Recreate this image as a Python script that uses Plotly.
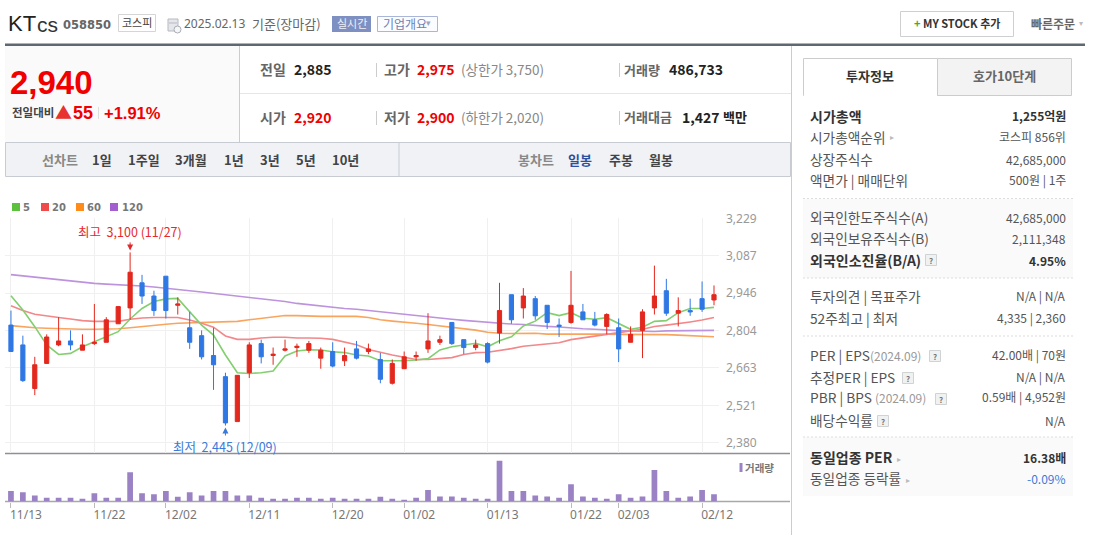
import plotly.graph_objects as go

W, H = 1095, 535

# ---------- chart data ----------
dates = ["11/13","11/14","11/15","11/18","11/19","11/20","11/21","11/22","11/25","11/26",
         "11/27","11/28","11/29","12/02","12/03","12/04","12/05","12/06","12/09","12/10",
         "12/11","12/12","12/13","12/16","12/17","12/18","12/19","12/20","12/23","12/24",
         "12/26","12/27","12/30","01/02","01/03","01/06","01/07","01/08","01/09","01/10",
         "01/13","01/14","01/15","01/16","01/17","01/20","01/21","01/22","01/23","01/24",
         "01/31","02/03","02/04","02/05","02/06","02/07","02/10","02/11","02/12","02/13"]
opens = [2825,2750,2585,2680,2750,2765,2730,2755,2760,2830,2890,2985,2935,3010,2900,2815,2785,2710,2630,2460,
         2645,2755,2710,2730,2740,2730,2700,2725,2690,2735,2725,2695,2605,2660,2705,2735,2760,2835,2770,2740,
         2755,2795,2940,2890,2925,2900,2825,2835,2875,2845,2820,2815,2760,2805,2890,2955,2870,2880,2925,2920]
closes = [2725,2615,2675,2780,2765,2750,2750,2760,2845,2895,3025,2935,2880,2880,2905,2760,2705,2675,2455,2635,
          2750,2705,2715,2735,2745,2755,2730,2670,2710,2700,2735,2620,2680,2705,2710,2765,2770,2755,2740,2750,
          2685,2880,2845,2935,2860,2835,2820,2900,2845,2825,2865,2735,2790,2875,2935,2870,2880,2875,2885,2940]
highs = [2880,2785,2705,2790,2855,2805,2790,2905,2855,2895,3100,3015,2955,3010,2930,2875,2805,2815,2645,2635,
         2760,2770,2740,2770,2755,2765,2740,2760,2740,2765,2755,2720,2695,2725,2725,2870,2785,2835,2770,2770,
         2760,2985,2940,2965,2935,2900,2850,3030,2905,2875,2870,2850,2820,2885,3050,3000,2930,2925,2990,2975]
lows = [2725,2610,2560,2680,2745,2730,2730,2750,2760,2830,2845,2905,2860,2850,2865,2735,2695,2580,2445,2460,
        2625,2680,2675,2725,2705,2720,2660,2665,2670,2695,2715,2605,2600,2660,2690,2720,2750,2750,2715,2730,
        2680,2755,2830,2850,2845,2810,2780,2830,2845,2820,2790,2685,2760,2700,2865,2860,2820,2860,2875,2900]
ma5 = [2936,2882,2819,2750,2714,2718,2743,2762,2781,2800,2848,2888,2914,2924,2926,2876,2825,2787,2712,2645,
       2642,2645,2651,2708,2727,2732,2731,2724,2721,2712,2708,2690,2690,2690,2693,2698,2731,2743,2750,2756,
       2743,2766,2781,2822,2840,2872,2861,2872,2851,2847,2853,2832,2809,2817,2839,2842,2872,2888,2888,2892]
ma20 = [2898,2880,2866,2859,2854,2848,2842,2839,2838,2839,2847,2852,2854,2854,2854,2844,2832,2817,2784,2771,
        2771,2776,2779,2779,2776,2776,2775,2771,2762,2751,2733,2722,2712,2703,2695,2695,2698,2702,2714,2721,
        2722,2728,2736,2745,2750,2753,2758,2770,2777,2784,2790,2796,2803,2809,2820,2825,2830,2837,2844,2854]
ma60 = [2823,2818,2815,2813,2811,2810,2809,2809,2809,2811,2815,2820,2824,2828,2832,2834,2835,2837,2838,2839,
        2845,2851,2856,2861,2861,2859,2858,2858,2858,2858,2854,2845,2840,2837,2832,2827,2822,2817,2811,2806,
        2798,2794,2793,2794,2794,2791,2791,2793,2793,2791,2791,2790,2790,2790,2790,2789,2787,2785,2781,2781]
ma120 = [3016,3011,3006,3002,2997,2992,2987,2983,2980,2978,2977,2973,2969,2965,2960,2955,2950,2945,2939,2934,
         2930,2925,2920,2914,2907,2902,2897,2892,2888,2885,2880,2876,2872,2867,2862,2857,2852,2847,2843,2839,
         2835,2832,2829,2827,2823,2820,2818,2814,2811,2809,2806,2804,2803,2801,2801,2803,2804,2805,2805,2805]
volumes = [704000,616000,396000,242000,242000,242000,176000,550000,242000,242000,
           1936000,550000,484000,704000,308000,616000,396000,704000,704000,396000,
           396000,242000,176000,176000,242000,242000,176000,242000,176000,176000,
           176000,308000,176000,110000,242000,770000,330000,330000,242000,176000,
           176000,2706000,704000,704000,396000,330000,242000,1144000,330000,242000,
           176000,484000,242000,330000,2090000,704000,242000,330000,770000,486733]
tick_dates = ["11/13","11/22","12/02","12/11","12/20","01/02","01/13","01/22","02/03","02/12"]
price_ticks = [3229,3087,2946,2804,2663,2521,2380]
ma_names = ["5","20","60","120"]

# ---------- page text ----------
info_left = [("시가총액",117,True),("시가총액순위",138,False),("상장주식수",160,False),("액면가 | 매매단위",181,False),
             ("외국인한도주식수(A)",218,False),("외국인보유주식수(B)",239,False),("외국인소진율(B/A)",261,True),
             ("투자의견 | 목표주가",297,False),("52주최고 | 최저",319,False),
             ("PER | EPS<span style='color:#999999;font-size:12px'>(2024.09)</span>",356,False),
             ("추정PER | EPS",378,False),
             ("PBR | BPS <span style='color:#999999;font-size:12px'>(2024.09)</span>",398,False),
             ("배당수익률",421,False),("동일업종 PER",458,True),("동일업종 등락률",479,False)]
info_right = [("1,255억원",117,True,"#333333"),("코스피 856위",138,False,"#555555"),("42,685,000",160,False,"#555555"),
              ("500원 | 1주",181,False,"#555555"),("42,685,000",218,False,"#555555"),("2,111,348",239,False,"#555555"),
              ("4.95%",261,True,"#333333"),("N/A | N/A",297,False,"#555555"),("4,335 | 2,360",319,False,"#555555"),
              ("42.00배 | 70원",356,False,"#555555"),("N/A | N/A",378,False,"#555555"),("0.59배 | 4,952원",398,False,"#555555"),
              ("N/A",421,False,"#555555"),("16.38배",458,True,"#333333"),("-0.09%",479,False,"#3a7ad9")]
help_icons = [(925,254),(929,350),(902,372),(935,393),(877,415)]
toolbar_left = [("1일",92),("1주일",128),("3개월",175),("1년",224),("3년",260),("5년",296),("10년",332)]

FONT = "Noto Sans CJK KR"
RED = "#f00000"
shapes, notes = [], []

def X(p): return p / W
def Y(p): return 1 - p / H

def rect(x0, y0, x1, y1, fill=None, line=None, lw=1, layer="below", kind="rect"):
    shapes.append(dict(type=kind, xref="paper", yref="paper", x0=X(x0), x1=X(x1), y0=Y(y0), y1=Y(y1),
                       fillcolor=fill or "rgba(0,0,0,0)", line=dict(color=line or "rgba(0,0,0,0)", width=lw if line else 0), layer=layer))

def hline(x0, x1, y, color, lw=1, dash="solid", layer="below"):
    shapes.append(dict(type="line", xref="paper", yref="paper", x0=X(x0), x1=X(x1), y0=Y(y), y1=Y(y),
                       line=dict(color=color, width=lw, dash=dash), layer=layer))

def vline(x, y0, y1, color, lw=1):
    shapes.append(dict(type="line", xref="paper", yref="paper", x0=X(x), x1=X(x), y0=Y(y0), y1=Y(y1),
                       line=dict(color=color, width=lw), layer="below"))

def text(x, y, s, size=13, color="#333333", bold=False, anchor="left", family=FONT):
    if family == FONT:
        y -= 1
    if bold:
        s = f"<b>{s}</b>"
    notes.append(dict(xref="paper", yref="paper", x=X(x), y=Y(y), text=s, showarrow=False, xanchor=anchor, yanchor="middle",
                      font=dict(family=family, size=size, color=color), borderpad=0, borderwidth=0))

# ---------- header ----------
text(8, 24, "KT", 22, "#222222", family="Liberation Sans")
text(36.5, 24.5, "cs", 21, "#333333", family="Liberation Sans")
text(63, 25, "058850", 11.5, "#666666", True, family="DejaVu Sans")
rect(118.5, 14.5, 155.5, 31.5, "#ffffff", "#d5d5d5")
text(137, 23.5, "코스피", 11, "#444444", anchor="center")
rect(168, 19, 178, 31, "#e4e6ea", "#b5b9c0")
hline(169, 177, 23, "#b5b9c0")
rect(174, 26, 181, 33, "#f5f6f7", "#a9adb4", kind="circle")
text(184, 24, "2025.02.13", 12, "#666666", family="Noto Sans")
text(252, 24.5, "기준(장마감)", 13, "#666666")
rect(332, 16, 371, 32, "#7e90c2")
text(351.5, 24.5, "실시간", 11, "#eef0f8", anchor="center")
rect(377.5, 16.5, 437.5, 31.5, "#fbfcff", "#aab6d8")
text(383, 24.5, "기업개요", 12, "#6e80b4")
text(426, 24, "▾", 9, "#9aa6c8")
rect(900.5, 11.5, 1013.5, 36.5, "#ffffff", "#cfcfcf")
text(957, 24.5, "<span style='color:#3fae2a'>+</span> MY STOCK 추가", 11, "#333333", True, anchor="center")
text(1031, 24.5, "빠른주문", 12, "#666666", True)
text(1079, 24, "▾", 8, "#bbbbbb")
hline(5, 1085, 44.8, "#5f6771", 2.4)

# ---------- quote ----------
rect(5, 46, 239, 142, "#fafafa")
vline(239.5, 46, 142, "#cccccc")
hline(240, 791, 93.5, "#e6e6e6")
text(10, 82, "2,940", 33, RED, True, family="Liberation Sans")
text(12, 113.5, "전일대비", 11.5, "#444444", True)
text(55, 112.5, "▲", 17, "#e8322f")
text(73, 113, "55", 18, RED, True, family="Liberation Sans")
vline(98.5, 107, 119, "#dddddd")
text(104, 113, "+1.91%", 16.5, RED, True, family="Liberation Sans")

text(260, 70, "전일", 14, "#666666", True)
text(294, 70, "2,885", 14, "#222222", True)
vline(376.5, 63, 77, "#cccccc")
text(384, 70, "고가", 14, "#666666", True)
text(417, 70, "2,975", 14, RED, True)
text(461, 70, "(상한가 3,750)", 13.5, "#888888")
vline(619.5, 63, 77, "#cccccc")
text(624, 70, "거래량", 13, "#666666", True)
text(669, 70, "486,733", 14, "#222222", True)

text(260, 118, "시가", 14, "#666666", True)
text(294, 118, "2,920", 14, RED, True)
vline(376.5, 111, 125, "#cccccc")
text(384, 118, "저가", 14, "#666666", True)
text(417, 118, "2,900", 14, RED, True)
text(461, 118, "(하한가 2,020)", 13.5, "#888888")
vline(619.5, 111, 125, "#cccccc")
text(624, 118, "거래대금", 13, "#666666", True)
text(682, 118, "1,427", 14, "#222222", True)
text(723, 118, "백만", 13, "#222222", True)

# ---------- toolbar ----------
rect(5.5, 142.5, 790.5, 176.5, "#f0f2f6", "#c8ccd2")
vline(399, 143, 176, "#c8ccd2")
text(42, 160, "선차트", 13, "#888888", True)
for s, x in toolbar_left:
    text(x, 160, s, 13, "#444444", True)
text(518, 160, "봉차트", 13, "#888888", True)
text(568, 160, "일봉", 13, "#2d4fa0", True)
text(609, 160, "주봉", 13, "#444444", True)
text(649, 160, "월봉", 13, "#444444", True)
vline(791.5, 46, 535, "#cccccc")

# ---------- side panel ----------
rect(937.5, 58.5, 1071.5, 95.5, "#f3f3f3", "#cccccc")
rect(803.5, 58.5, 937.5, 95.5, "#ffffff", "#cccccc")
hline(804, 937, 95.5, "#ffffff", 2)
text(870, 76.5, "투자정보", 13, "#333333", True, anchor="center")
text(1004, 76.5, "호가10단계", 13, "#666666", True, anchor="center")
rect(803, 199, 1073, 278, "#fafafa")
rect(803, 437, 1073, 496, "#fafafa")
for yy in (198.5, 278, 336, 437):
    hline(803, 1073, yy, "#dddddd", 1, "2px,2px")
for s, y, b in info_left:
    text(810, y, s, 14 if b else 13.7, "#333333" if b else "#555555", b)
for s, y, b, c in info_right:
    text(1066, y, s, 12, c, b, anchor="right")
for xi, yi in help_icons:
    rect(xi + .5, yi + .5, xi + 11.5, yi + 11.5, "#f0f2f2", "#cfd3d3")
    text(xi + 6, yi + 7, "?", 8, "#777777", True, anchor="center")
text(890, 138, "▸", 8, "#bbbbbb")
text(897, 459, "▸", 8, "#bbbbbb")
text(906, 480, "▸", 8, "#bbbbbb")

# ---------- chart furniture ----------
for i, (c, nm, x0, tx) in enumerate(zip(["#5cc13c", "#f04a4a", "#ff8c1a", "#a35fd0"], ma_names, [12, 41, 76, 110], [23, 52, 87, 122])):
    rect(x0, 203, x0 + 8, 211, c)
    text(tx, 207.5, nm, 10, "#777777", True, family="DejaVu Sans")
hline(5, 790, 453.5, "#8f8f96", 1.4)
hline(5, 790, 501.5, "#a8a8a8", 1.4)
rect(739.5, 463, 742.5, 472, "#9a82c4")
text(745, 468, "거래량", 10.5, "#777777", True)

notes.append(dict(x="11/27", y=3100, xref="x", yref="y", text="최고  3,100 (11/27)", showarrow=True, arrowhead=2, arrowwidth=1, arrowsize=1.2,
                  arrowcolor="#e0282d", ax=0, ay=-21, standoff=2, font=dict(family=FONT, size=12.5, color="#e8282d")))
notes.append(dict(x="12/09", y=2445, xref="x", yref="y", text="최저  2,445 (12/09)", showarrow=True, arrowhead=2, arrowwidth=1, arrowsize=1.2,
                  arrowcolor="#3a7ad9", ax=0, ay=21, standoff=2, font=dict(family=FONT, size=12.5, color="#3a7ad9")))

# ---------- traces ----------
fig = go.Figure()
for vals, color, name in zip([ma120, ma60, ma20, ma5], ["#bd93dd", "#f9a55e", "#f2888a", "#83cf70"], ma_names[::-1]):
    fig.add_trace(go.Scatter(x=dates, y=vals, mode="lines", name=name, line=dict(color=color, width=1.6),
                             xaxis="x", yaxis="y", showlegend=False, hoverinfo="skip"))
fig.add_trace(go.Candlestick(x=dates, open=opens, high=highs, low=lows, close=closes, name="일봉",
                             increasing=dict(line=dict(color="#e3281e", width=1), fillcolor="#e3281e"),
                             decreasing=dict(line=dict(color="#2f78e4", width=1), fillcolor="#2f78e4"),
                             whiskerwidth=0, xaxis="x", yaxis="y3", showlegend=False))
fig.add_trace(go.Bar(x=dates, y=volumes, name="거래량", marker=dict(color="#9a82c4", line=dict(width=0)),
                     width=0.48, xaxis="x2", yaxis="y2", showlegend=False))

xdom = [X(5), X(719)]
xrange_ = [-0.5, 59.42]
yrange = [2340, 3229]
grid = "#f0f0f0"
fig.update_layout(
    width=W, height=H, autosize=False, margin=dict(l=0, r=0, t=0, b=0, pad=0, autoexpand=False), paper_bgcolor="#ffffff", plot_bgcolor="rgba(0,0,0,0)",
    boxgap=0.5, hovermode=False, dragmode=False, showlegend=False, shapes=shapes, annotations=notes,
    font=dict(family=FONT),
    xaxis=dict(domain=xdom, type="category", categoryorder="array", categoryarray=dates, range=xrange_, tickvals=tick_dates, anchor="y",
               showticklabels=False, showgrid=True, gridcolor=grid, gridwidth=1, zeroline=False, rangeslider=dict(visible=False), ticks="", showline=False),
    yaxis=dict(domain=[Y(453.3), Y(218.3)], range=yrange, tickvals=price_ticks, tickformat=",d", side="right", anchor="x",
               showgrid=True, gridcolor=grid, gridwidth=1, zeroline=False, ticks="", showline=False, ticklabelstandoff=6,
               tickfont=dict(family="Noto Sans", size=12, color="#999999")),
    yaxis3=dict(domain=[Y(453.3), Y(218.3)], range=yrange, overlaying="y", anchor="x", side="right", showgrid=False, zeroline=False,
                showticklabels=False, ticks=""),
    xaxis2=dict(domain=xdom, type="category", categoryorder="array", categoryarray=dates, range=xrange_, tickvals=tick_dates, anchor="y2",
                showgrid=False, zeroline=False, ticks="outside", ticklen=5, tickcolor="#bbbbbb", tickwidth=1, showline=False,
                tickangle=0, ticklabelshift=15, ticklabelstandoff=-3, tickfont=dict(family="Noto Sans", size=12, color="#777777")),
    yaxis2=dict(domain=[Y(501.5), Y(453.3)], range=[0, 3200000], anchor="x2", showgrid=False, zeroline=False, showticklabels=False, ticks=""),
)

fig.write_html("out.html", config=dict(displayModeBar=False, staticPlot=True),
               post_script="document.body.style.margin='0';document.body.style.overflow='hidden';")
